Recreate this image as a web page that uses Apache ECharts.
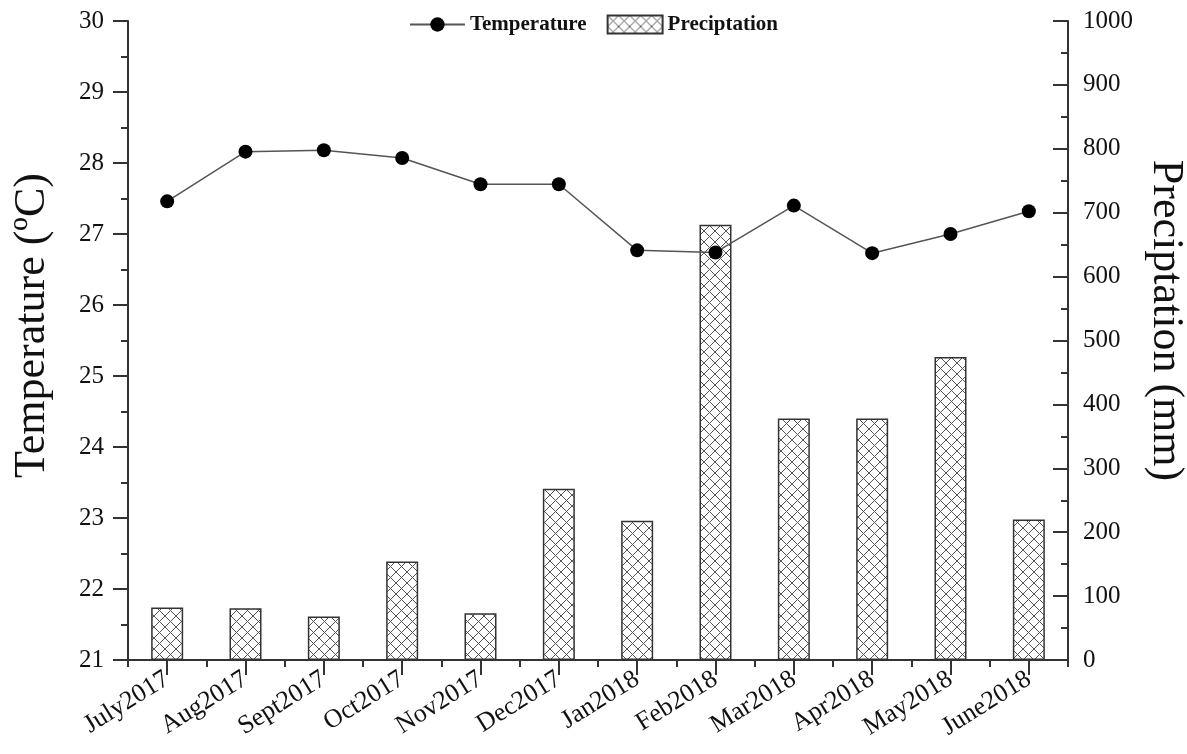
<!DOCTYPE html>
<html>
<head>
<meta charset="utf-8">
<script src="https://cdn.jsdelivr.net/npm/echarts@6/dist/echarts.min.js"></script>
<style>html,body{margin:0;padding:0;background:#fff;}#c{width:1187px;height:754px;}</style>
</head>
<body>
<div id="c"></div>
<script>
const months = ['July2017','Aug2017','Sept2017','Oct2017','Nov2017','Dec2017','Jan2018','Feb2018','Mar2018','Apr2018','May2018','June2018'];
const temperature = [27.46, 28.16, 28.18, 28.07, 27.70, 27.70, 26.77, 26.74, 27.40, 26.73, 27.00, 27.32];
const precipitation = [82, 81, 68, 154, 73, 268, 218, 681, 378, 378, 474, 220];

const FONT = '"Liberation Serif", "DejaVu Serif", serif';

function hatch() {
  const s = 11;
  const c = document.createElement('canvas');
  c.width = s; c.height = s;
  const g = c.getContext('2d');
  g.fillStyle = '#fff';
  g.fillRect(0, 0, s, s);
  g.strokeStyle = '#555';
  g.lineWidth = 1;
  g.beginPath();
  g.moveTo(0, 0); g.lineTo(s, s);
  g.moveTo(s, 0); g.lineTo(0, s);
  g.stroke();
  return c;
}
const pattern = { image: hatch(), repeat: 'repeat' };

const chart = echarts.init(document.getElementById('c'));
chart.setOption({
  animation: false,
  backgroundColor: '#fff',
  legend: {
    top: 9,
    left: 'center',
    itemWidth: 55,
    itemHeight: 18,
    itemGap: 20,
    textStyle: { fontFamily: FONT, fontSize: 21, fontWeight: 'bold', color: '#111' },
    data: [
      { name: 'Temperature' },
      { name: 'Preciptation', icon: 'rect' }
    ]
  },
  grid: { left: 128, right: 119, top: 21, bottom: 94, containLabel: false, outerBoundsMode: 'none' },
  xAxis: [
    {
      type: 'category',
      data: months,
      position: 'bottom',
      axisLine: { show: true, lineStyle: { color: '#333', width: 2 } },
      axisTick: { show: true, alignWithLabel: true, length: 15, lineStyle: { color: '#333', width: 2 } },
      axisLabel: { rotate: 32, margin: 17, fontFamily: FONT, fontSize: 26, color: '#111' },
      splitLine: { show: false }
    },
    {
      type: 'category',
      data: months,
      position: 'bottom',
      axisLine: { show: false },
      axisTick: { show: true, length: 7, lineStyle: { color: '#333', width: 2 } },
      axisLabel: { show: false },
      splitLine: { show: false }
    }
  ],
  yAxis: [
    {
      type: 'value',
      min: 21, max: 30, interval: 1,
      position: 'left',
      name: 'Temperature (ºC)',
      nameLocation: 'middle',
      nameGap: 74,
      nameTextStyle: { fontFamily: FONT, fontSize: 44, color: '#111', padding: [0, 0, 0, 30] },
      axisLine: { show: true, lineStyle: { color: '#333', width: 2 } },
      axisTick: { show: true, length: 15, lineStyle: { color: '#333', width: 2 } },
      minorTick: { show: true, splitNumber: 2, length: 7, lineStyle: { color: '#333', width: 2 } },
      axisLabel: { margin: 24, fontFamily: FONT, fontSize: 25, color: '#111' },
      splitLine: { show: false }
    },
    {
      type: 'value',
      min: 0, max: 1000, interval: 100,
      position: 'right',
      name: 'Preciptation (mm)',
      nameLocation: 'middle',
      nameGap: 70,
      nameRotate: -90,
      nameTextStyle: { fontFamily: FONT, fontSize: 44, color: '#111', padding: [0, 40, 0, 0] },
      axisLine: { show: true, lineStyle: { color: '#333', width: 2 } },
      axisTick: { show: true, inside: true, length: 15, lineStyle: { color: '#333', width: 2 } },
      minorTick: { show: true, splitNumber: 2, length: 7, lineStyle: { color: '#333', width: 2 } },
      axisLabel: { margin: 15, fontFamily: FONT, fontSize: 25, color: '#111', formatter: v => String(v) },
      splitLine: { show: false }
    }
  ],
  series: [
    {
      name: 'Preciptation',
      type: 'bar',
      xAxisIndex: 0,
      yAxisIndex: 1,
      data: precipitation,
      barWidth: 32,
      itemStyle: { color: pattern, borderColor: '#333', borderWidth: 1.5 },
      z: 2
    },
    {
      name: 'Temperature',
      type: 'line',
      xAxisIndex: 0,
      yAxisIndex: 0,
      data: temperature,
      symbol: 'circle',
      symbolSize: 14,
      lineStyle: { color: '#555', width: 1.5 },
      itemStyle: { color: '#000' },
      z: 3
    }
  ]
});
</script>
</body>
</html>
